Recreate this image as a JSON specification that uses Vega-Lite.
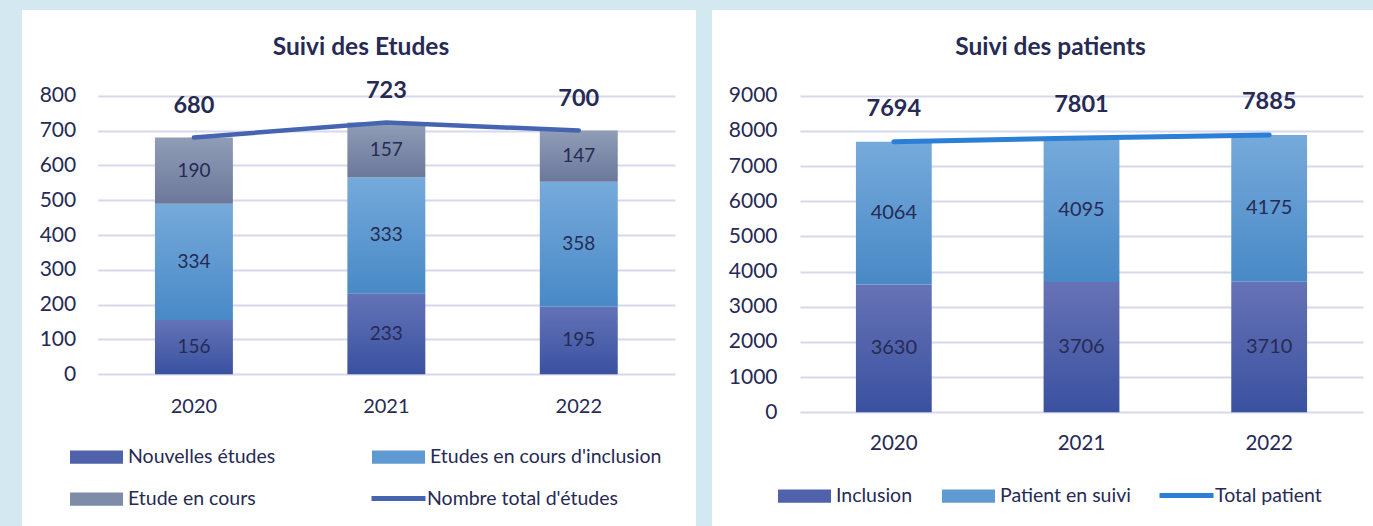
{
  "$schema": "https://vega.github.io/schema/vega-lite/v6.json",
  "background": "#d4e8f1",
  "padding": {"left": 22, "top": 10, "right": 0, "bottom": 0},
  "spacing": 16,
  "config": {
    "font": "Lato",
    "view": {"stroke": null},
    "axis": {"labelFont": "Lato", "labelColor": "#262a55"},
    "text": {"font": "Lato", "color": "#262a55"},
    "title": {"font": "Lato", "color": "#262a55"},
    "legend": {"labelFont": "Lato", "labelColor": "#262a55"}
  },
  "datasets": {
    "etudes": [
      {"annee": "2020", "serie": "Nouvelles études", "rang": 1, "valeur": 156},
      {"annee": "2020", "serie": "Etudes en cours d'inclusion", "rang": 2, "valeur": 334},
      {"annee": "2020", "serie": "Etude en cours", "rang": 3, "valeur": 190},
      {"annee": "2021", "serie": "Nouvelles études", "rang": 1, "valeur": 233},
      {"annee": "2021", "serie": "Etudes en cours d'inclusion", "rang": 2, "valeur": 333},
      {"annee": "2021", "serie": "Etude en cours", "rang": 3, "valeur": 157},
      {"annee": "2022", "serie": "Nouvelles études", "rang": 1, "valeur": 195},
      {"annee": "2022", "serie": "Etudes en cours d'inclusion", "rang": 2, "valeur": 358},
      {"annee": "2022", "serie": "Etude en cours", "rang": 3, "valeur": 147}
    ],
    "etudesTot": [
      {"annee": "2020", "serie": "Nombre total d'études", "total": 680},
      {"annee": "2021", "serie": "Nombre total d'études", "total": 723},
      {"annee": "2022", "serie": "Nombre total d'études", "total": 700}
    ],
    "patients": [
      {"annee": "2020", "serie": "Inclusion", "rang": 1, "valeur": 3630},
      {"annee": "2020", "serie": "Patient en suivi", "rang": 2, "valeur": 4064},
      {"annee": "2021", "serie": "Inclusion", "rang": 1, "valeur": 3706},
      {"annee": "2021", "serie": "Patient en suivi", "rang": 2, "valeur": 4095},
      {"annee": "2022", "serie": "Inclusion", "rang": 1, "valeur": 3710},
      {"annee": "2022", "serie": "Patient en suivi", "rang": 2, "valeur": 4175}
    ],
    "patientsTot": [
      {"annee": "2020", "serie": "Total patient", "total": 7694},
      {"annee": "2021", "serie": "Total patient", "total": 7801},
      {"annee": "2022", "serie": "Total patient", "total": 7885}
    ]
  },
  "resolve": {
    "scale": {"color": "independent", "fill": "independent", "x": "independent", "y": "independent"},
    "legend": {"color": "independent", "fill": "independent"},
    "axis": {"x": "independent", "y": "independent"}
  },
  "hconcat": [
    {
      "width": 674,
      "height": 516,
      "view": {"fill": "white", "stroke": null},
      "title": {"text": "Suivi des Etudes", "fontSize": 24.5, "fontWeight": "bold", "color": "#262a55", "anchor": "middle", "frame": "group", "offset": -69, "baseline": "alphabetic", "dx": 2},
      "layer": [
        {
          "data": {"name": "etudes"},
          "transform": [
            {"stack": "valeur", "groupby": ["annee"], "sort": [{"field": "rang", "order": "ascending"}], "as": ["v0", "v1"]},
            {"calculate": "(datum.v0 + datum.v1) / 2", "as": "vm"}
          ],
          "layer": [
            {
              "transform": [{"filter": "datum.rang == 1"}],
              "mark": {"type": "bar", "fill": {"gradient": "linear", "x1": 0, "y1": 0, "x2": 0, "y2": 1, "stops": [{"offset": 0, "color": "#6373b7"}, {"offset": 1, "color": "#3a51a0"}]}},
              "encoding": {
                "x": {"field": "annee", "type": "ordinal", "scale": {"range": [75.7, 653], "paddingInner": 0.595, "paddingOuter": 0.2975},
                  "axis": {"orient": "bottom", "offset": -151.7, "labelPadding": 22, "ticks": false, "domain": false, "grid": false, "title": null, "labelFontSize": 20, "labelAngle": 0}},
                "y": {"field": "v1", "type": "quantitative", "scale": {"domain": [0, 800], "nice": false, "range": [364.3, 85.7]},
                  "axis": {"offset": -75.7, "ticks": false, "domain": false, "values": [0, 100, 200, 300, 400, 500, 600, 700, 800], "labelPadding": 22, "grid": true, "gridColor": "#d7d8ee", "gridWidth": 2, "labelFontSize": 21, "title": null}},
                "y2": {"field": "v0"}
              }
            },
            {
              "transform": [{"filter": "datum.rang == 2"}],
              "mark": {"type": "bar", "fill": {"gradient": "linear", "x1": 0, "y1": 0, "x2": 0, "y2": 1, "stops": [{"offset": 0, "color": "#76aadb"}, {"offset": 1, "color": "#4889c6"}]}},
              "encoding": {
                "x": {"field": "annee", "type": "ordinal"},
                "y": {"field": "v1", "type": "quantitative"},
                "y2": {"field": "v0"}
              }
            },
            {
              "transform": [{"filter": "datum.rang == 3"}],
              "mark": {"type": "bar", "fill": {"gradient": "linear", "x1": 0, "y1": 0, "x2": 0, "y2": 1, "stops": [{"offset": 0, "color": "#8f9db7"}, {"offset": 1, "color": "#6b789a"}]}},
              "encoding": {
                "x": {"field": "annee", "type": "ordinal"},
                "y": {"field": "v1", "type": "quantitative"},
                "y2": {"field": "v0"}
              }
            },
            {
              "mark": {"type": "bar", "opacity": 0},
              "encoding": {
                "x": {"field": "annee", "type": "ordinal"},
                "y": {"field": "v1", "type": "quantitative"},
                "y2": {"field": "v0"},
                "fill": {"field": "serie", "type": "nominal",
                  "scale": {"domain": ["Nouvelles études", "Etudes en cours d'inclusion", "Etude en cours"], "range": ["#4f62ab", "#5f9ad2", "#7e8ba9"]},
                  "legend": {
                    "orient": "none", "legendX": 48, "legendY": 420.5, "direction": "horizontal", "columns": 2, "columnPadding": 96, "rowPadding": 6,
                    "title": null, "symbolType": "M-1,-0.25H1V0.25H-1Z", "symbolSize": 2809, "symbolOpacity": 1, "symbolStrokeWidth": 0,
                    "labelOffset": 5, "labelFontSize": 19.5, "labelColor": "#262a55", "labelLimit": 400
                  }
                }
              }
            },
            {
              "mark": {"type": "text", "fontSize": 19, "baseline": "middle", "color": "#262a55"},
              "encoding": {
                "x": {"field": "annee", "type": "ordinal"},
                "y": {"field": "vm", "type": "quantitative"},
                "text": {"field": "valeur", "type": "quantitative"}
              }
            }
          ]
        },
        {
          "data": {"name": "etudesTot"},
          "mark": {"type": "line", "strokeWidth": 4.5, "strokeCap": "round"},
          "encoding": {
            "x": {"field": "annee", "type": "ordinal"},
            "y": {"field": "total", "type": "quantitative"},
            "color": {"field": "serie", "type": "nominal",
              "scale": {"range": ["#4565b0"]},
              "legend": {
                "orient": "none", "legendX": 347, "legendY": 459,
                "title": null, "symbolType": "stroke", "symbolSize": 2916, "symbolStrokeWidth": 5,
                "labelOffset": -1, "labelFontSize": 19.5, "labelColor": "#262a55", "labelLimit": 400
              }
            }
          }
        },
        {
          "data": {"name": "etudesTot"},
          "mark": {"type": "text", "fontSize": 23.5, "fontWeight": "bold", "baseline": "middle", "dy": -31.5, "color": "#262a55"},
          "encoding": {
            "x": {"field": "annee", "type": "ordinal"},
            "y": {"field": "total", "type": "quantitative"},
            "text": {"field": "total", "type": "quantitative"}
          }
        }
      ]
    },
    {
      "width": 661,
      "height": 516,
      "view": {"fill": "white", "stroke": null},
      "title": {"text": "Suivi des patients", "fontSize": 24.5, "fontWeight": "bold", "color": "#262a55", "anchor": "middle", "frame": "group", "offset": -69, "baseline": "alphabetic", "dx": 8},
      "layer": [
        {
          "data": {"name": "patients"},
          "transform": [
            {"stack": "valeur", "groupby": ["annee"], "sort": [{"field": "rang", "order": "ascending"}], "as": ["v0", "v1"]},
            {"calculate": "(datum.v0 + datum.v1) / 2", "as": "vm"}
          ],
          "layer": [
            {
              "transform": [{"filter": "datum.rang == 1"}],
              "mark": {"type": "bar", "fill": {"gradient": "linear", "x1": 0, "y1": 0, "x2": 0, "y2": 1, "stops": [{"offset": 0, "color": "#6672b5"}, {"offset": 1, "color": "#3a51a0"}]}},
              "encoding": {
                "x": {"field": "annee", "type": "ordinal", "scale": {"range": [88, 651], "paddingInner": 0.596, "paddingOuter": 0.298},
                  "axis": {"orient": "bottom", "offset": -113.7, "labelPadding": 21, "ticks": false, "domain": false, "grid": false, "title": null, "labelFontSize": 20.5, "labelAngle": 0}},
                "y": {"field": "v1", "type": "quantitative", "scale": {"domain": [0, 9000], "nice": false, "range": [402.3, 85.7]},
                  "axis": {"offset": -88, "ticks": false, "domain": false, "values": [0, 1000, 2000, 3000, 4000, 5000, 6000, 7000, 8000, 9000], "format": "d", "labelPadding": 23, "grid": true, "gridColor": "#d7d8ee", "gridWidth": 2, "labelFontSize": 21, "title": null}},
                "y2": {"field": "v0"}
              }
            },
            {
              "transform": [{"filter": "datum.rang == 2"}],
              "mark": {"type": "bar", "fill": {"gradient": "linear", "x1": 0, "y1": 0, "x2": 0, "y2": 1, "stops": [{"offset": 0, "color": "#76aadb"}, {"offset": 1, "color": "#4889c6"}]}},
              "encoding": {
                "x": {"field": "annee", "type": "ordinal"},
                "y": {"field": "v1", "type": "quantitative"},
                "y2": {"field": "v0"}
              }
            },
            {
              "mark": {"type": "bar", "opacity": 0},
              "encoding": {
                "x": {"field": "annee", "type": "ordinal"},
                "y": {"field": "v1", "type": "quantitative"},
                "y2": {"field": "v0"},
                "fill": {"field": "serie", "type": "nominal",
                  "scale": {"domain": ["Inclusion", "Patient en suivi"], "range": ["#4f62ab", "#5f9ad2"]},
                  "legend": {
                    "orient": "none", "legendX": 66, "legendY": 459.5, "direction": "horizontal", "columns": 2, "columnPadding": 29,
                    "title": null, "symbolType": "M-1,-0.25H1V0.25H-1Z", "symbolSize": 2809, "symbolOpacity": 1, "symbolStrokeWidth": 0,
                    "labelOffset": 5, "labelFontSize": 19.5, "labelColor": "#262a55", "labelLimit": 400
                  }
                }
              }
            },
            {
              "mark": {"type": "text", "fontSize": 20, "baseline": "middle", "color": "#262a55"},
              "encoding": {
                "x": {"field": "annee", "type": "ordinal"},
                "y": {"field": "vm", "type": "quantitative"},
                "text": {"field": "valeur", "type": "quantitative", "format": "d"}
              }
            }
          ]
        },
        {
          "data": {"name": "patientsTot"},
          "mark": {"type": "line", "strokeWidth": 5, "strokeCap": "round"},
          "encoding": {
            "x": {"field": "annee", "type": "ordinal"},
            "y": {"field": "total", "type": "quantitative"},
            "color": {"field": "serie", "type": "nominal",
              "scale": {"range": ["#2b7fd6"]},
              "legend": {
                "orient": "none", "legendX": 445, "legendY": 456,
                "title": null, "symbolType": "stroke", "symbolSize": 2916, "symbolStrokeWidth": 5,
                "labelOffset": -1, "labelFontSize": 19.5, "labelColor": "#262a55", "labelLimit": 400
              }
            }
          }
        },
        {
          "data": {"name": "patientsTot"},
          "mark": {"type": "text", "fontSize": 23.5, "fontWeight": "bold", "baseline": "middle", "dy": -33, "color": "#262a55"},
          "encoding": {
            "x": {"field": "annee", "type": "ordinal"},
            "y": {"field": "total", "type": "quantitative"},
            "text": {"field": "total", "type": "quantitative", "format": "d"}
          }
        }
      ]
    }
  ]
}
